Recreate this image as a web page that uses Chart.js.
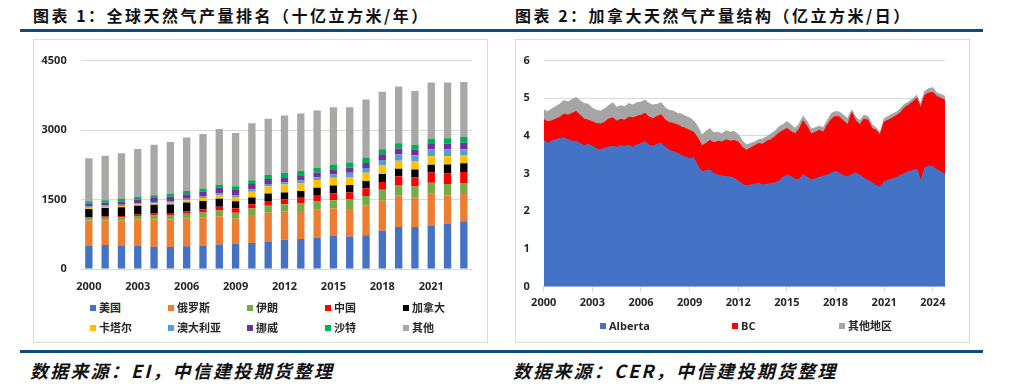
<!DOCTYPE html>
<html>
<head>
<meta charset="utf-8">
<script src="https://cdn.jsdelivr.net/npm/chart.js@4.4.0/dist/chart.umd.min.js"></script>
<style>
  body { margin: 0; width: 1017px; height: 389px; background: #fff; position: relative; overflow: hidden;
         font-family: "Noto Sans CJK SC", sans-serif; }
  .title { position: absolute; top: 4px; font-size: 16px; font-weight: bold; letter-spacing: 2.5px; color: #111;
           white-space: nowrap; line-height: 22px; }
  .rule { position: absolute; left: 20px; width: 963px; height: 3px; background: #0F4C7C; }
  .box { position: absolute; top: 39px; height: 304px; border: 1px solid #DADADA; box-sizing: border-box; }
  .source { position: absolute; top: 359px; font-size: 18px; font-style: italic; font-weight: bold; letter-spacing: 2.2px;
            white-space: nowrap; color: #111; line-height: 22px; }
  canvas { position: absolute; }
  .legend-item { position: absolute; font: bold 11px "Open Sans", "Noto Sans CJK SC", sans-serif; color: #262626;
                 white-space: nowrap; line-height: 14px; }
  .legend-item i { display: inline-block; width: 6px; height: 6px; margin-right: 3px; vertical-align: 1px; }
</style>
</head>
<body>

<div class="title" style="left:33px">图表 1：全球天然气产量排名（十亿立方米/年）</div>
<div class="title" style="left:515px">图表 2：加拿大天然气产量结构（亿立方米/日）</div>
<div class="rule" style="top:29px"></div>

<div class="box" style="left:33px; width:455px"></div>
<div class="box" style="left:515px; width:455px"></div>

<canvas id="chart-rank" width="452" height="258" style="left:34px; top:40px"></canvas>
<canvas id="chart-canada" width="452" height="270" style="left:516px; top:40px"></canvas>
<div id="legend-rank"></div>
<div id="legend-canada"></div>

<div class="rule" style="top:350px"></div>
<div class="source" style="left:30px">数据来源：EI，中信建投期货整理</div>
<div class="source" style="left:513px">数据来源：CER，中信建投期货整理</div>

<script>
// Data - chart 1 (bcm / year)
const years = ['2000','2001','2002','2003','2004','2005','2006','2007','2008','2009','2010','2011',
               '2012','2013','2014','2015','2016','2017','2018','2019','2020','2021','2022','2023'];
const us        = [510,517,497,510,483,476,490,510,531,545,559,600,633,647,681,722,702,729,826,908,908,929,984,1032];
const russia    = [538,538,551,566,586,593,600,600,607,538,607,614,605,605,599,585,591,640,660,681,633,695,605,585];
const iran      = [56,49,62,69,90,97,103,111,124,131,138,152,159,165,179,179,207,207,227,227,241,240,248,241];
const china     = [20,27,35,34,41,41,55,69,83,96,96,103,110,124,137,151,151,165,165,186,199,221,227,234];
const canada    = [173,186,186,187,186,186,187,179,172,152,145,159,144,145,158,166,165,158,172,165,166,165,193,192];
const qatar     = [27,28,28,27,35,35,48,62,76,83,124,158,172,165,166,165,172,179,186,172,172,186,179,179];
const australia = [28,28,27,28,27,41,34,35,42,48,48,49,48,62,61,75,90,103,117,138,137,144,144,124];
const norway    = [62,55,69,76,83,90,97,103,117,111,118,110,110,110,104,111,110,110,124,124,117,117,124,137];
const saudi     = [48,55,55,62,62,69,69,69,69,82,82,83,97,96,103,103,110,117,110,117,110,117,117,124];
const others    = [931,965,987,1034,1090,1117,1159,1179,1200,1152,1228,1214,1239,1239,1232,1238,1197,1252,1238,1224,1163,1211,1204,1191];
const rankTicks = [0, 1500, 3000, 4500];

// Data - chart 2 (100 million m3 / day), quarterly from 2000 Q1
const startYear = 2000;
const alberta = [3.88,3.80,3.86,3.90, 3.93,3.95,3.90,3.86, 3.85,3.80,3.74,3.78, 3.72,3.66,3.63,3.67, 3.70,3.72,3.70,3.74,
                 3.72,3.75,3.70,3.76, 3.80,3.84,3.75,3.72, 3.78,3.80,3.70,3.62, 3.58,3.54,3.48,3.44, 3.40,3.42,3.20,3.05,
                 3.08,3.10,3.00,2.96, 2.94,2.92,2.91,2.88, 2.80,2.72,2.67,2.70, 2.72,2.74,2.70,2.72, 2.73,2.75,2.80,2.90,
                 2.96,2.92,2.85,2.84, 2.98,2.90,2.84,2.86, 2.90,2.94,2.96,3.02, 3.06,3.00,2.94,2.92, 2.98,3.02,2.96,2.88,
                 2.82,2.76,2.68,2.64, 2.78,2.82,2.86,2.90, 2.95,3.00,3.05,3.08, 3.12,2.80,3.14,3.20, 3.18,3.10,3.05,2.97];
const bc      = [0.55,0.58,0.54,0.55, 0.57,0.63,0.65,0.74, 0.80,0.75,0.71,0.64, 0.66,0.67,0.69,0.69, 0.75,0.76,0.70,0.70,
                 0.70,0.75,0.78,0.76, 0.75,0.76,0.75,0.74, 0.74,0.76,0.72,0.74, 0.75,0.76,0.76,0.76, 0.75,0.68,0.75,0.69,
                 0.72,0.78,0.82,0.90, 0.90,0.98,0.95,1.00, 1.04,0.98,0.95,0.98, 1.02,1.06,1.08,1.14, 1.17,1.23,1.28,1.24,
                 1.24,1.20,1.21,1.34, 1.42,1.35,1.21,1.24, 1.25,1.16,1.34,1.43, 1.46,1.50,1.46,1.38, 1.64,1.38,1.34,1.57,
                 1.60,1.44,1.47,1.39, 1.59,1.60,1.62,1.64, 1.67,1.75,1.77,1.82, 1.88,1.95,1.94,1.94, 1.98,1.95,1.95,1.98];
const otherRegions = [0.26,0.26,0.32,0.33, 0.35,0.36,0.35,0.37, 0.37,0.38,0.41,0.42, 0.36,0.35,0.34,0.36, 0.35,0.40,0.36,0.36,
                 0.36,0.36,0.34,0.36, 0.35,0.35,0.36,0.36, 0.32,0.32,0.32,0.32, 0.33,0.30,0.34,0.32, 0.33,0.30,0.30,0.28,
                 0.32,0.32,0.26,0.24, 0.22,0.24,0.24,0.24, 0.20,0.18,0.14,0.12, 0.10,0.10,0.14,0.12, 0.15,0.14,0.16,0.16,
                 0.18,0.18,0.14,0.14, 0.12,0.13,0.13,0.12, 0.11,0.12,0.12,0.15, 0.13,0.13,0.15,0.16, 0.07,0.10,0.10,0.10,
                 0.10,0.10,0.07,0.05, 0.09,0.10,0.10,0.09, 0.10,0.09,0.08,0.08, 0.08,0.09,0.10,0.12, 0.12,0.09,0.10,0.10];
const canadaTicks = [0, 1, 2, 3, 4, 5, 6];

Chart.defaults.font.family = '"Open Sans", "Noto Sans CJK SC", sans-serif';
Chart.defaults.font.size = 11;
Chart.defaults.font.weight = 'bold';
Chart.defaults.color = '#262626';
Chart.defaults.animation = false;

const gridColor = '#D9D9D9';

// Chart 1 - stacked bars
const rankSeries = [
  ['美国', us, '#4472C4'],
  ['俄罗斯', russia, '#ED7D31'],
  ['伊朗', iran, '#70AD47'],
  ['中国', china, '#FF0000'],
  ['加拿大', canada, '#000000'],
  ['卡塔尔', qatar, '#FFC000'],
  ['澳大利亚', australia, '#5B9BD5'],
  ['挪威', norway, '#7030A0'],
  ['沙特', saudi, '#00B050'],
  ['其他', others, '#AAA7A7']
];

const rankChart = new Chart(document.getElementById('chart-rank'), {
  type: 'bar',
  data: {
    labels: years,
    datasets: rankSeries.map(s => ({
      label: s[0],
      data: s[1],
      backgroundColor: s[2],
      barPercentage: 0.9,
      categoryPercentage: 0.5
    }))
  },
  options: {
    responsive: false,
    devicePixelRatio: 1,
    layout: { padding: { left: 0, right: 14, top: 11, bottom: 0 } },
    plugins: { legend: { display: false }, tooltip: { enabled: false } },
    scales: {
      x: {
        stacked: true,
        grid: { display: false },
        border: { display: false },
        ticks: {
          autoSkip: false, maxRotation: 0, padding: 3,
          callback: (v, i) => i % 3 === 0 ? years[i] : ''
        },
        afterFit: s => { s.height = 29; }
      },
      y: {
        stacked: true,
        min: 0, max: 4500,
        grid: { color: gridColor, drawTicks: false },
        border: { display: false },
        afterBuildTicks: s => { s.ticks = rankTicks.map(v => ({ value: v })); },
        ticks: { padding: 14, callback: v => String(v) },
        afterFit: s => { s.width = 46.7; }
      }
    }
  }
});

// Chart 2 - stacked area
const quarterX = alberta.map((v, i) => startYear + i / 4);
const canadaSeries = [
  ['Alberta', alberta, '#4472C4'],
  ['BC', bc, '#FF0000'],
  ['其他地区', otherRegions, '#A5A5A5']
];

const canadaChart = new Chart(document.getElementById('chart-canada'), {
  type: 'line',
  data: {
    datasets: canadaSeries.map((s, k) => ({
      label: s[0],
      data: s[1].map((v, i) => ({ x: quarterX[i], y: v })),
      backgroundColor: s[2],
      borderColor: s[2],
      borderWidth: 1,
      pointRadius: 0,
      tension: 0,
      fill: k === 0 ? 'origin' : '-1'
    }))
  },
  options: {
    responsive: false,
    devicePixelRatio: 1,
    layout: { padding: { left: 0, right: 23, top: 11, bottom: 0 } },
    plugins: { legend: { display: false }, tooltip: { enabled: false } },
    scales: {
      x: {
        type: 'linear',
        min: 2000, max: 2024.75,
        grid: { drawOnChartArea: false, drawTicks: true, tickLength: 5, color: gridColor },
        border: { display: true, color: gridColor },
        afterBuildTicks: s => {
          s.ticks = [];
          for (let y = 2000; y <= 2024; y += 3) s.ticks.push({ value: y });
        },
        ticks: { padding: 5, maxRotation: 0, callback: v => String(v) },
        afterFit: s => { s.height = 23.3; }
      },
      y: {
        stacked: true,
        min: 0, max: 6,
        grid: { color: gridColor, drawTicks: false },
        border: { display: false },
        afterBuildTicks: s => { s.ticks = canadaTicks.map(v => ({ value: v })); },
        ticks: { padding: 14 },
        afterFit: s => { s.width = 27.7; }
      }
    }
  }
});

// HTML legends
function buildLegend(id, series, spots) {
  const box = document.getElementById(id);
  series.forEach((s, i) => {
    const item = document.createElement('div');
    item.className = 'legend-item';
    item.style.left = spots[i][0] + 'px';
    item.style.top = (spots[i][1] - 7) + 'px';
    item.innerHTML = '<i style="background:' + s[2] + '"></i>' + s[0];
    box.appendChild(item);
  });
}

const colX = [90, 168, 247, 325, 403];
buildLegend('legend-rank', rankSeries, rankSeries.map((s, i) => [colX[i % 5], i < 5 ? 308 : 327.5]));
buildLegend('legend-canada', canadaSeries, [[600, 325.5], [732, 325.5], [839, 325.5]]);
</script>
</body>
</html>
